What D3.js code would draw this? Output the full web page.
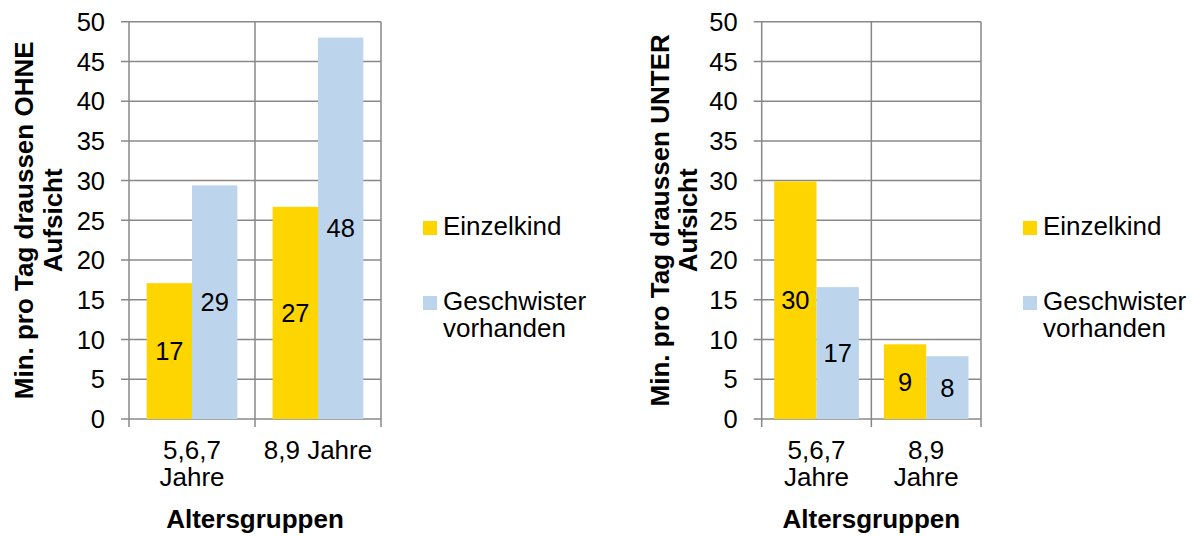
<!DOCTYPE html>
<html>
<head>
<meta charset="utf-8">
<script src="https://cdn.jsdelivr.net/npm/d3@7"></script>
<style>
  body { margin: 0; background: #fff; }
  svg text { font-family: Arial, "Liberation Sans", sans-serif; fill: #000; }
</style>
</head>
<body>
<script>
// data
var categories = ["5,6,7 Jahre", "8,9 Jahre"];
var seriesNames = ["Einzelkind", "Geschwister vorhanden"];
var einzelkindOhne = [17.1, 26.7];
var geschwisterOhne = [29.4, 48.0];
var einzelkindUnter = [29.9, 9.4];
var geschwisterUnter = [16.6, 7.9];
var yTicks = [0, 5, 10, 15, 20, 25, 30, 35, 40, 45, 50];
var xLabelsOhne = [["5,6,7", "Jahre"], ["8,9 Jahre"]];
var xLabelsUnter = [["5,6,7", "Jahre"], ["8,9", "Jahre"]];
var legendLines = [["Einzelkind"], ["Geschwister", "vorhanden"]];

var width = 1197,
	height = 536,
	colors = ["#ffd500", "#bdd5ec"],
	gridColor = "#888888";

var svg = d3.select("body")
	.append("svg")
	.attr("width", width)
	.attr("height", height);

function drawChart(opt) {
	var g = svg.append("g");

	var y = d3.scaleLinear().domain([0, 50]).range([opt.bottom, opt.top]);
	var x = d3.scaleBand().domain(categories).range([opt.left, opt.right]);
	var xs = d3.scaleBand().domain(seriesNames)
		.range([x.bandwidth() * opt.pad, x.bandwidth() * (1 - opt.pad)]);

	// horizontal gridlines + tick marks
	g.selectAll(".hgrid")
		.data(yTicks)
		.enter().append("line")
		.attr("x1", opt.left - 8)
		.attr("x2", opt.right)
		.attr("y1", function(d) { return y(d); })
		.attr("y2", function(d) { return y(d); })
		.attr("stroke", gridColor)
		.attr("stroke-width", 1.5);

	// vertical lines at the category borders
	var borders = [opt.left].concat(categories.map(function(c) { return x(c) + x.bandwidth(); }));
	g.selectAll(".vgrid")
		.data(borders)
		.enter().append("line")
		.attr("x1", function(d) { return d; })
		.attr("x2", function(d) { return d; })
		.attr("y1", opt.top)
		.attr("y2", opt.bottom + 8)
		.attr("stroke", gridColor)
		.attr("stroke-width", 1.5);

	// y tick labels
	g.selectAll(".ylab")
		.data(yTicks)
		.enter().append("text")
		.attr("x", opt.left - 24)
		.attr("y", function(d) { return y(d); })
		.attr("dy", "0.36em")
		.attr("text-anchor", "end")
		.style("font-size", "25.5px")
		.text(function(d) { return d; });

	// bars
	var rows = [];
	categories.forEach(function(c, i) {
		opt.series.forEach(function(s, j) {
			rows.push({ cat: c, name: seriesNames[j], value: s[i], color: colors[j] });
		});
	});

	g.selectAll(".bar")
		.data(rows)
		.enter().append("rect")
		.attr("x", function(d) { return x(d.cat) + xs(d.name); })
		.attr("width", xs.bandwidth())
		.attr("y", function(d) { return y(d.value); })
		.attr("height", function(d) { return y(0) - y(d.value); })
		.attr("fill", function(d) { return d.color; });

	// value labels in the middle of the bar
	g.selectAll(".val")
		.data(rows)
		.enter().append("text")
		.attr("x", function(d) { return x(d.cat) + xs(d.name) + xs.bandwidth() / 2; })
		.attr("y", function(d) { return (y(d.value) + y(0)) / 2; })
		.attr("dy", "0.36em")
		.attr("text-anchor", "middle")
		.style("font-size", "25.5px")
		.text(function(d) { return Math.round(d.value); });

	// category labels
	categories.forEach(function(c, i) {
		var t = g.append("text")
			.attr("text-anchor", "middle")
			.style("font-size", "26px");
		opt.xLabels[i].forEach(function(line, k) {
			t.append("tspan")
				.attr("x", x(c) + x.bandwidth() / 2)
				.attr("y", 459 + k * 27)
				.text(line);
		});
	});

	// x axis title
	g.append("text")
		.attr("x", (opt.left + opt.right) / 2)
		.attr("y", 528)
		.attr("text-anchor", "middle")
		.style("font-size", "26px")
		.style("font-weight", "bold")
		.text("Altersgruppen");

	// y axis title, two lines
	opt.yTitle.forEach(function(line, k) {
		g.append("text")
			.attr("transform", "translate(" + opt.yTitleX[k] + "," + (opt.top + opt.bottom) / 2 + ") rotate(-90)")
			.attr("text-anchor", "middle")
			.style("font-size", "26px")
			.style("font-weight", "bold")
			.text(line);
	});

	// legend
	var lg = g.append("g").attr("transform", "translate(" + opt.legendX + ",0)");
	legendLines.forEach(function(lines, j) {
		var top = j == 0 ? 221 : 296;
		lg.append("rect")
			.attr("x", 0)
			.attr("y", top)
			.attr("width", 14)
			.attr("height", 14)
			.attr("fill", colors[j]);
		var t = lg.append("text").style("font-size", "26px");
		lines.forEach(function(line, k) {
			t.append("tspan")
				.attr("x", 20)
				.attr("y", top + 14 + k * 27)
				.text(line);
		});
	});
}

drawChart({
	left: 129, right: 381, top: 21.7, bottom: 419, pad: 0.14,
	series: [einzelkindOhne, geschwisterOhne],
	xLabels: xLabelsOhne,
	yTitle: ["Min. pro Tag draussen OHNE", "Aufsicht"],
	yTitleX: [33, 62],
	legendX: 423
});

drawChart({
	left: 761.7, right: 981, top: 21.7, bottom: 419, pad: 0.114,
	series: [einzelkindUnter, geschwisterUnter],
	xLabels: xLabelsUnter,
	yTitle: ["Min. pro Tag draussen UNTER", "Aufsicht"],
	yTitleX: [669, 697],
	legendX: 1023
});
</script>
</body>
</html>
